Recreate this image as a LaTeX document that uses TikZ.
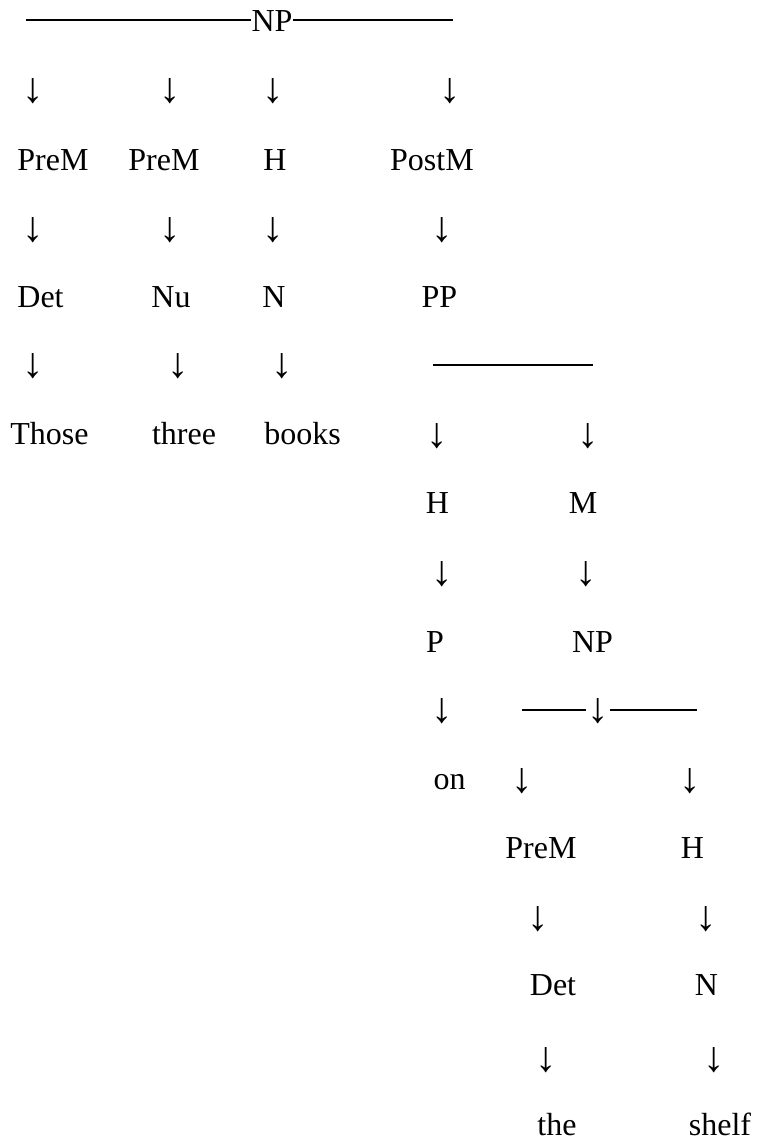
\documentclass[tikz,border=0pt]{standalone}
\usepackage{fontspec}
\setmainfont{Liberation Serif}
\usepackage{tikz}
\usetikzlibrary{calc}
\tikzset{
  lbl/.style={inner sep=0pt,anchor=base,font=\fontsize{12}{14}\selectfont},
  dn/.style={inner sep=0pt,anchor=center,font=\fontsize{16}{18}\selectfont},
  bar/.style={line width=0.65pt,draw=black}
}

\begin{document}
\begin{tikzpicture}[x=0.375pt,y=-0.375pt]
    \path[use as bounding box] (0,0) rectangle (757,1141);
    % top phrase and its bar
    \node[lbl] (np) at (272,31) {NP};
    \coordinate (npL) at (26,20);
    \coordinate (npR) at (453,20);
    \draw[bar] (npL) -- (np.west |- npL);
    \draw[bar] (np.east |- npR) -- (npR);
    % first level
    \node[dn] (a1) at (33,91.5) {↓};
    \node[dn] (a2) at (170,91.5) {↓};
    \node[dn] (a3) at (273,91.5) {↓};
    \node[dn] (a4) at (450,91.5) {↓};
    \node[lbl] (prem1) at (53,170) {PreM};
    \node[lbl] (prem2) at (164,170) {PreM};
    \node[lbl] (head1) at (275,170) {H};
    \node[lbl] (postm) at (432,170) {PostM};
    \node[dn] (b1) at (33,230) {↓};
    \node[dn] (b2) at (170,230) {↓};
    \node[dn] (b3) at (273,230) {↓};
    \node[dn] (b4) at (442,230) {↓};
    \node[lbl] (det1) at (40.5,307) {Det};
    \node[lbl] (nu) at (171,307) {Nu};
    \node[lbl] (n1) at (274,307) {N};
    \node[lbl] (pp) at (439.5,307) {PP};
    \node[dn] (c1) at (33,366.5) {↓};
    \node[dn] (c2) at (178,366.5) {↓};
    \node[dn] (c3) at (282,366.5) {↓};
    \node[lbl] (those) at (49.5,444) {Those};
    \node[lbl] (three) at (184,444) {three};
    \node[lbl] (books) at (302.5,444) {books};
    % prepositional phrase
    \coordinate (ppL) at (433,365);
    \coordinate (ppR) at (593,365);
    \draw[bar] (ppL) -- (ppR);
    \node[dn] (d1) at (437,436) {↓};
    \node[dn] (d2) at (588,436) {↓};
    \node[lbl] (head2) at (437.5,513) {H};
    \node[lbl] (mod) at (583,513) {M};
    \node[dn] (e1) at (442,574) {↓};
    \node[dn] (e2) at (586,574) {↓};
    \node[lbl] (prep) at (435,652) {P};
    \node[lbl] (np2) at (592.5,652) {NP};
    \node[dn] (f1) at (442,711.5) {↓};
    % inner noun phrase bar, broken by its arrow
    \node[dn] (f2) at (598,711.5) {↓};
    \coordinate (np2L) at (522,710);
    \coordinate (np2R) at (697,710);
    \draw[bar] (np2L) -- ($(f2.west |- np2L)+(-1,0)$);
    \draw[bar] ($(f2.east |- np2R)+(1,0)$) -- (np2R);
    \node[lbl] (on) at (449.5,789) {on};
    \node[dn] (g1) at (522,781.5) {↓};
    \node[dn] (g2) at (690,781.5) {↓};
    \node[lbl] (prem3) at (541,858) {PreM};
    \node[lbl] (head3) at (692.5,858) {H};
    \node[dn] (h1) at (538,919) {↓};
    \node[dn] (h2) at (706,919) {↓};
    \node[lbl] (det2) at (553,995) {Det};
    \node[lbl] (n2) at (706.5,995) {N};
    \node[dn] (k1) at (546,1060) {↓};
    \node[dn] (k2) at (714,1060) {↓};
    \node[lbl] (the) at (557,1135) {the};
    \node[lbl] (shelf) at (720,1135) {shelf};
\end{tikzpicture}
\end{document}
